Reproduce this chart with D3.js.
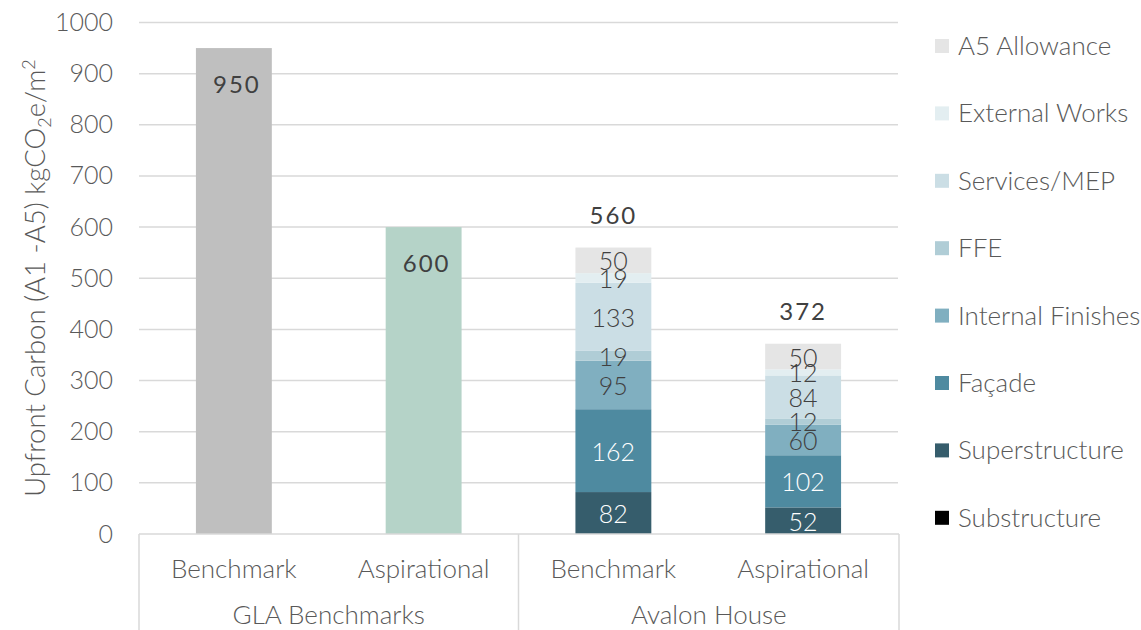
<!DOCTYPE html>
<html>
<head>
<meta charset="utf-8">
<script src="https://cdn.jsdelivr.net/npm/d3@7"></script>
<style>
  html, body { margin: 0; padding: 0; background: #ffffff; }
  svg { display: block; font-family: Lato, "Open Sans", sans-serif; font-weight: 300; }
</style>
</head>
<body>
<svg id="chart" width="1141" height="630"></svg>
<script>
// ---- data ----
const categories = ["Benchmark", "Aspirational", "Benchmark", "Aspirational"];
const groups = ["GLA Benchmarks", "Avalon House"];
const glaValues = [950, 600, null, null];
const seriesNames = ["Substructure", "Superstructure", "Façade", "Internal Finishes", "FFE", "Services/MEP", "External Works", "A5 Allowance"];
const avalonBenchmark = [0, 82, 162, 95, 19, 133, 19, 50];
const avalonAspirational = [0, 52, 102, 60, 12, 84, 12, 50];
const totals = [null, null, 560, 372];
const yTicks = [0, 100, 200, 300, 400, 500, 600, 700, 800, 900, 1000];

(function () {
// ---- styles ----
const seriesColors = ["#000000", "#365d6c", "#4e8aa0", "#80afc0", "#b0cdd6", "#cbdee5", "#e3eef1", "#e5e5e5"];
const labelColors = ["#ffffff", "#ffffff", "#ffffff", "#404040", "#404040", "#404040", "#404040", "#404040"];
const glaColors = ["#bfbfbf", "#b5d3c8"];

const svg = d3.select("#chart");
const pLeft = 139, pRight = 898, pTop = 22.5, pBottom = 534;

const y = d3.scaleLinear().domain([0, 1000]).range([pBottom, pTop]);
const x = d3.scaleBand().domain(d3.range(categories.length)).range([pLeft, pRight])
  .paddingInner(0.6).paddingOuter(0.3);

// gridlines
svg.append("g").selectAll("line").data(yTicks.filter(d => d > 0)).join("line")
  .attr("x1", pLeft).attr("x2", pRight)
  .attr("y1", d => y(d)).attr("y2", d => y(d))
  .attr("stroke", "#d9d9d9").attr("stroke-width", 1.5);

// y axis labels via d3 axis
const yAxis = svg.append("g").attr("transform", `translate(${pLeft},0)`)
  .call(d3.axisLeft(y).tickValues(yTicks).tickSize(0).tickPadding(26).tickFormat(d3.format("d")));
yAxis.select(".domain").remove();
yAxis.selectAll("text").attr("fill", "#595959").style("font-size", "25px")
  .style("font-family", "Lato, sans-serif").style("font-weight", 300);

// y title
const title = svg.append("text")
  .attr("transform", `translate(45, 278) rotate(-90)`)
  .attr("text-anchor", "middle").attr("fill", "#595959").style("font-size", "27.5px");
title.append("tspan").text("Upfront Carbon (A1 -A5) kgCO");
title.append("tspan").attr("dy", 6).style("font-size", "18px").text("2");
title.append("tspan").attr("dy", -6).text("e/m");
title.append("tspan").attr("dy", -10).style("font-size", "18px").text("2");

// GLA bars
const gla = glaValues.map((v, i) => ({ v, i })).filter(d => d.v !== null);
svg.append("g").selectAll("rect").data(gla).join("rect")
  .attr("x", d => x(d.i)).attr("width", x.bandwidth())
  .attr("y", d => y(d.v)).attr("height", d => y(0) - y(d.v))
  .attr("fill", (d, k) => glaColors[k]);
svg.append("g").selectAll("text").data(gla).join("text")
  .attr("x", d => x(d.i) + x.bandwidth() / 2 + 3)
  .attr("y", d => y(d.v) + 45)
  .attr("text-anchor", "middle").attr("fill", "#404040")
  .style("font-size", "24px").style("font-weight", 400).style("letter-spacing", "2px")
  .text(d => d.v);

// stacked Avalon bars
const stackRows = [avalonBenchmark, avalonAspirational];
const stackIdx = [2, 3];
const segs = [];
stackRows.forEach((row, r) => {
  let acc = 0;
  row.forEach((v, s) => {
    segs.push({ i: stackIdx[r], s, y0: acc, y1: acc + v, v });
    acc += v;
  });
});
svg.append("g").selectAll("rect").data(segs.filter(d => d.v > 0)).join("rect")
  .attr("x", d => x(d.i)).attr("width", x.bandwidth())
  .attr("y", d => y(d.y1)).attr("height", d => y(d.y0) - y(d.y1))
  .attr("fill", d => seriesColors[d.s]);
svg.append("g").selectAll("text").data(segs.filter(d => d.v > 0)).join("text")
  .attr("x", d => x(d.i) + x.bandwidth() / 2)
  .attr("y", d => (y(d.y0) + y(d.y1)) / 2 + 10)
  .attr("text-anchor", "middle").attr("fill", d => labelColors[d.s])
  .style("font-size", "25px")
  .text(d => d.v);

// totals
svg.append("g").selectAll("text").data(totals.map((v, i) => ({ v, i })).filter(d => d.v !== null)).join("text")
  .attr("x", d => x(d.i) + x.bandwidth() / 2)
  .attr("y", d => y(d.v) - 24)
  .attr("text-anchor", "middle").attr("fill", "#404040")
  .style("font-size", "24px").style("font-weight", 400).style("letter-spacing", "2px")
  .text(d => d.v);

// category axis box
const axisG = svg.append("g");
axisG.append("line").attr("x1", pLeft).attr("x2", pRight + 1).attr("y1", pBottom).attr("y2", pBottom)
  .attr("stroke", "#d9d9d9").attr("stroke-width", 1.5);
const dividers = [pLeft, (x(1) + x.bandwidth() + x(2)) / 2, pRight + 1];
axisG.selectAll("line.div").data(dividers).join("line").attr("class", "div")
  .attr("x1", d => d).attr("x2", d => d).attr("y1", pBottom).attr("y2", 630)
  .attr("stroke", "#d9d9d9").attr("stroke-width", 1.5);
axisG.selectAll("text.cat").data(categories).join("text").attr("class", "cat")
  .attr("x", (d, i) => x(i) + x.bandwidth() / 2).attr("y", 578)
  .attr("text-anchor", "middle").attr("fill", "#595959").style("font-size", "26px")
  .text(d => d);
axisG.selectAll("text.grp").data(groups).join("text").attr("class", "grp")
  .attr("x", (d, g) => (dividers[g] + dividers[g + 1]) / 2).attr("y", 624)
  .attr("text-anchor", "middle").attr("fill", "#595959").style("font-size", "26px")
  .text(d => d);

// legend (top to bottom: reverse series order)
const legendOrder = d3.range(seriesNames.length).reverse();
const lg = svg.append("g").selectAll("g").data(legendOrder).join("g")
  .attr("transform", (d, k) => `translate(935, ${46 + k * 67.4})`);
lg.append("rect").attr("x", 0).attr("y", -7).attr("width", 14).attr("height", 14)
  .attr("fill", d => seriesColors[d]);
lg.append("text").attr("x", 23).attr("y", 9).attr("fill", "#595959").style("font-size", "26px")
  .text(d => seriesNames[d]);
})();
</script>
</body>
</html>
